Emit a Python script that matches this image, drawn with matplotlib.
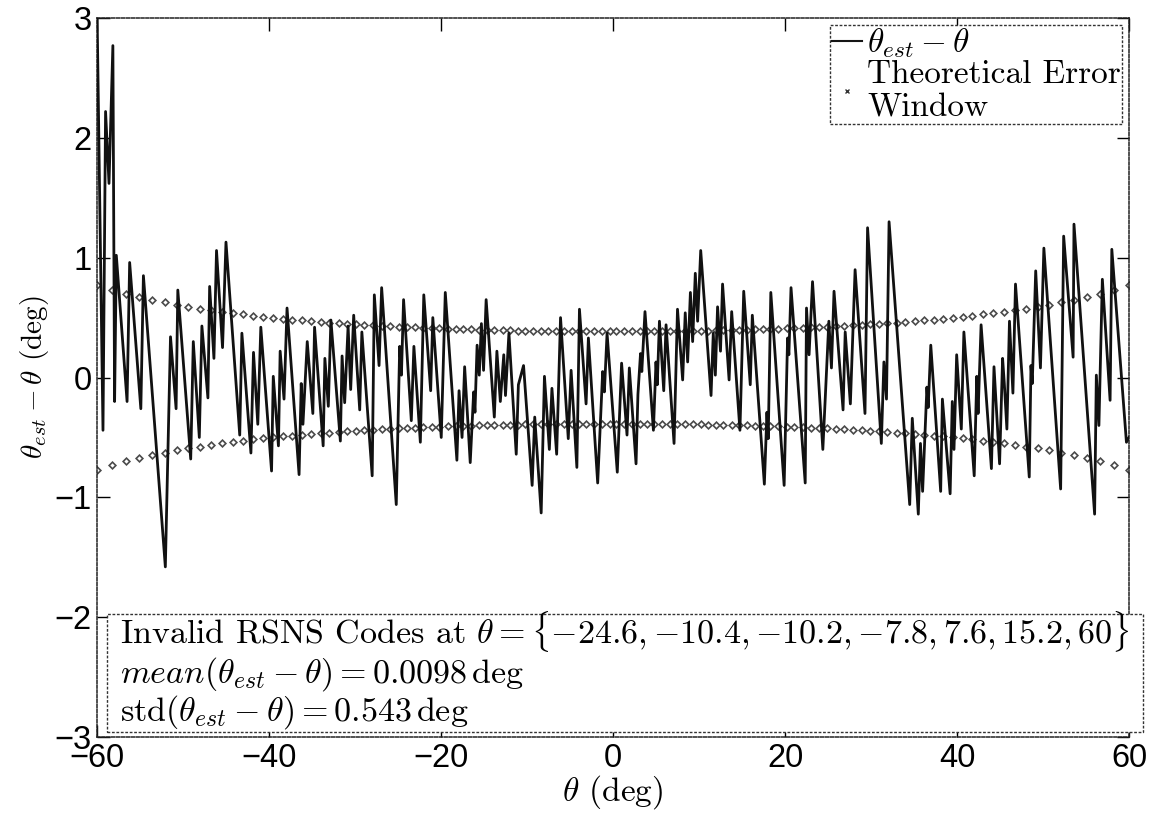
import matplotlib
matplotlib.use("Agg")
import matplotlib.pyplot as plt
from matplotlib.lines import Line2D
from matplotlib.patches import Rectangle

# ---------------- data ----------------
THETA = [
    -60.0, -59.3, -59.0, -58.6, -58.15, -57.95, -57.75, -56.5, -56.2, -54.9,
    -54.6, -52.05, -51.45, -50.8, -50.6, -49.1, -48.8, -48.1, -47.8, -47.1,
    -46.9, -46.4, -46.1, -45.4, -45.0, -43.4, -43.15, -42.1, -41.8, -41.3,
    -40.95, -39.7, -39.5, -38.9, -38.7, -38.25, -37.9, -36.5, -36.25, -36.05,
    -35.55, -34.9, -34.7, -33.7, -33.5, -33.1, -32.8, -31.7, -31.5, -31.2,
    -30.8, -30.5, -30.15, -29.45, -29.2, -28.0, -27.75, -27.2, -26.9, -25.2,
    -24.8, -24.6, -24.35, -23.45, -23.15, -22.4, -22.0, -21.2, -20.95, -19.97,
    -19.5, -18.15, -17.9, -17.55, -17.25, -16.6, -16.2, -16.05, -15.8, -15.55,
    -15.3, -15.05, -14.75, -13.8, -13.5, -13.1, -12.7, -12.5, -12.1, -11.25,
    -11.0, -10.4, -9.4, -9.1, -8.35, -7.97, -7.4, -7.1, -6.55, -6.1,
    -5.2, -4.87, -4.2, -3.9, -3.13, -2.86, -1.78, -1.2, -1.0, -0.69,
    0.5, 1.0, 1.63, 1.9, 2.68, 2.9, 3.2, 3.35, 3.72, 4.7,
    5.0, 5.15, 5.4, 5.9, 6.17, 7.1, 7.5, 8.1, 8.4, 8.68,
    9.0, 9.26, 9.57, 9.84, 10.2, 11.4, 11.66, 11.9, 12.16, 12.5,
    12.74, 13.5, 13.8, 14.76, 15.2, 15.96, 16.2, 17.6, 17.9, 18.05,
    18.35, 19.9, 20.3, 20.45, 20.7, 22.35, 22.5, 22.8, 23.2, 24.4,
    25.1, 25.4, 25.7, 26.75, 27.0, 27.6, 28.15, 29.3, 29.6, 31.2,
    31.5, 31.8, 32.1, 34.5, 34.8, 35.5, 35.75, 36.0, 36.5, 36.65,
    36.95, 38.1, 38.3, 39.2, 39.45, 39.65, 39.96, 40.5, 40.8, 42.0,
    42.3, 42.45, 42.8, 44.0, 44.3, 44.95, 45.3, 45.5, 45.8, 46.1,
    46.5, 46.8, 48.4, 48.6, 48.75, 49.15, 49.7, 50.1, 52.05, 52.4,
    53.5, 53.6, 56.0, 56.2, 56.5, 56.9, 57.8, 58.0, 59.7, 60.0,
]
ERR = [
    3.10, -0.44, 2.22, 1.62, 2.77, -0.20, 1.02, -0.20, 0.96, -0.26,
    0.85, -1.58, 0.34, -0.26, 0.73, -0.68, 0.30, -0.50, 0.43, -0.17,
    0.76, 0.16, 1.06, 0.25, 1.13, -0.48, 0.37, -0.63, 0.21, -0.39,
    0.42, -0.78, 0.01, -0.57, 0.22, -0.18, 0.58, -0.81, -0.05, -0.39,
    0.30, -0.30, 0.42, -0.57, 0.16, -0.24, 0.48, -0.53, 0.18, -0.21,
    0.43, -0.10, 0.52, -0.27, 0.38, -0.82, 0.69, 0.10, 0.75, -1.06,
    0.26, 0.02, 0.65, -0.36, 0.26, -0.54, 0.69, -0.11, 0.50, -0.50,
    0.71, -0.69, -0.11, -0.50, 0.09, -0.71, -0.12, -0.29, 0.27, 0.02,
    0.45, 0.06, 0.65, -0.33, 0.22, -0.20, 0.19, -0.15, 0.37, -0.64,
    -0.06, 0.10, -0.90, -0.33, -1.13, 0.01, -0.60, -0.09, -0.64, 0.50,
    -0.51, 0.06, -0.75, 0.57, -0.22, 0.33, -0.88, 0.05, -0.12, 0.37,
    -0.79, 0.12, -0.48, 0.08, -0.72, -0.14, 0.20, 0.05, 0.55, -0.44,
    0.13, -0.06, 0.47, -0.11, 0.44, -0.55, 0.57, -0.02, 0.54, 0.13,
    0.71, 0.30, 0.87, 0.47, 1.06, -0.15, 0.37, 0.02, 0.59, 0.22,
    0.78, -0.02, 0.55, -0.44, 0.72, -0.06, 0.52, -0.89, -0.29, -0.51,
    0.71, -0.90, 0.33, 0.19, 0.75, -0.88, 0.58, 0.19, 0.80, -0.60,
    0.47, 0.08, 0.72, -0.27, 0.38, -0.22, 0.90, -0.30, 1.25, -0.55,
    0.13, -0.18, 1.30, -1.06, -0.34, -1.14, -0.55, -0.95, -0.08, -0.25,
    0.27, -0.95, -0.18, -0.97, -0.20, -0.60, 0.19, -0.43, 0.38, -0.82,
    0.01, -0.30, 0.44, -0.76, 0.09, -0.72, 0.16, -0.05, -0.43, 0.47,
    -0.13, 0.78, -0.83, 0.10, -0.05, 0.89, 0.08, 1.08, -0.93, 1.18,
    0.17, 1.28, -1.14, 0.02, -0.40, 0.82, -0.19, 1.07, -0.54, -0.50,
]

WIN_THETA = [
    -60.0, -58.3, -56.6, -55.1, -53.6, -52.1, -50.7, -49.4, -48.0, -46.7,
    -45.5, -44.2, -43.0, -41.8, -40.7, -39.5, -38.4, -37.3, -36.2, -35.1,
    -34.0, -33.0, -31.9, -30.9, -29.9, -28.9, -27.9, -26.9, -25.9, -24.9,
    -24.0, -23.0, -22.1, -21.1, -20.2, -19.2, -18.3, -17.4, -16.5, -15.6,
    -14.7, -13.8, -12.8, -12.0, -11.1, -10.2, -9.3, -8.4, -7.5, -6.6,
    -5.7, -4.8, -4.0, -3.1, -2.2, -1.3, -0.4,
    0.4, 1.3, 2.2, 3.1, 4.0, 4.8, 5.7, 6.6, 7.5, 8.4,
    9.3, 10.2, 11.1, 12.0, 12.8, 13.8, 14.7, 15.6, 16.5, 17.4,
    18.3, 19.2, 20.2, 21.1, 22.1, 23.0, 24.0, 24.9, 25.9, 26.9,
    27.9, 28.9, 29.9, 30.9, 31.9, 33.0, 34.0, 35.1, 36.2, 37.3,
    38.4, 39.5, 40.7, 41.8, 43.0, 44.2, 45.5, 46.7, 48.0, 49.4,
    50.7, 52.1, 53.6, 55.1, 56.6, 58.3, 60.0,
]
WIN_UPPER = [
    0.770, 0.733, 0.700, 0.673, 0.648, 0.627, 0.608, 0.591, 0.576, 0.562,
    0.549, 0.537, 0.527, 0.517, 0.507, 0.499, 0.491, 0.484, 0.477, 0.470,
    0.465, 0.459, 0.454, 0.449, 0.444, 0.440, 0.436, 0.432, 0.428, 0.425,
    0.421, 0.418, 0.415, 0.413, 0.410, 0.408, 0.406, 0.403, 0.402, 0.400,
    0.398, 0.396, 0.395, 0.394, 0.392, 0.391, 0.390, 0.389, 0.388, 0.388,
    0.387, 0.386, 0.386, 0.386, 0.385, 0.385, 0.385,
    0.385, 0.385, 0.385, 0.386, 0.386, 0.386, 0.387, 0.388, 0.388, 0.389,
    0.390, 0.391, 0.392, 0.394, 0.395, 0.396, 0.398, 0.400, 0.402, 0.403,
    0.406, 0.408, 0.410, 0.413, 0.415, 0.418, 0.421, 0.425, 0.428, 0.432,
    0.436, 0.440, 0.444, 0.449, 0.454, 0.459, 0.465, 0.470, 0.477, 0.484,
    0.491, 0.499, 0.507, 0.517, 0.527, 0.537, 0.549, 0.562, 0.576, 0.591,
    0.608, 0.627, 0.648, 0.673, 0.700, 0.733, 0.770,
]
WIN_LOWER = [-v for v in WIN_UPPER]

X_TICKS = [-60, -40, -20, 0, 20, 40, 60]
Y_TICKS = [-3, -2, -1, 0, 1, 2, 3]

INVALID = ["-24.6", "-10.4", "-10.2", "-7.8", "7.6", "15.2", "60"]
MEAN_TXT = "0.0098"
STD_TXT = "0.543"

# ---------------- style ----------------
plt.rcParams["mathtext.fontset"] = "cm"
plt.rcParams["axes.unicode_minus"] = True
SERIF = "cmr10"
DASH = (0, (2.0, 1.2))

fig = plt.figure(figsize=(11.53, 8.17), dpi=100)
ax = fig.add_axes([0.0841, 0.0979, 0.8951, 0.880])

ax.plot(THETA, ERR, color="#111111", lw=2.0, zorder=3)
mk = dict(ls="none", marker="D", ms=3.4, mfc="white", mec="#4a4a4a", mew=1.2, zorder=2)
ax.plot(WIN_THETA, WIN_UPPER, **mk)
ax.plot(WIN_THETA, WIN_LOWER, **mk)

ax.set_xlim(-60, 60)
ax.set_ylim(-3, 3)
ax.set_xticks(X_TICKS)
ax.set_yticks(Y_TICKS)
ax.tick_params(direction="in", length=9, width=1.0, top=True, right=True,
               labelsize=23.5, pad=4)
for lab in ax.get_xticklabels() + ax.get_yticklabels():
    lab.set_fontfamily("Liberation Sans")
for sp in ax.spines.values():
    sp.set_linestyle(DASH)
    sp.set_linewidth(1.1)
    sp.set_color("#222222")

ax.set_xlabel(r"$\theta$ (deg)", fontfamily=SERIF, fontsize=24, labelpad=0)
ax.set_ylabel(r"$\theta_{est} - \theta$ (deg)", fontfamily=SERIF, fontsize=21, labelpad=2)

handles = [
    Line2D([], [], color="#151515", lw=1.5),
    Line2D([], [], ls="none", marker="x", ms=3, mec="#333333", mew=1.0),
]
labels = [r"$\theta_{est} - \theta$", "Theoretical Error\nWindow"]
leg = ax.legend(handles, labels, loc="upper right", prop={"family": SERIF, "size": 24},
                handlelength=0.9, handletextpad=0.15, borderpad=0.05,
                borderaxespad=0.2, labelspacing=0.0, fancybox=False, framealpha=1)
leg.get_frame().set_edgecolor("#333333")
leg.get_frame().set_linestyle(DASH)
leg.get_frame().set_linewidth(1.0)

# statistics box
box = Rectangle((0.0097, 0.007), 1.0039, 0.164, transform=ax.transAxes,
                fc="white", ec="#333333", ls=DASH, lw=1.0, zorder=4, clip_on=False)
ax.add_patch(box)
inv = ", ".join("{" + v + "}" for v in INVALID)
lines = [
    "Invalid RSNS Codes at $\\theta = \\{" + inv + "\\}$",
    "$mean(\\theta_{est} - \\theta) = " + MEAN_TXT + "\\,\\mathrm{deg}$",
    "$\\mathrm{std}(\\theta_{est} - \\theta) = " + STD_TXT + "\\,\\mathrm{deg}$",
]
for txt, yb in zip(lines, [0.130, 0.076, 0.023]):
    ax.text(0.0223, yb, txt, transform=ax.transAxes, ha="left", va="baseline",
            fontfamily=SERIF, fontsize=24.5, zorder=5, clip_on=False)

fig.savefig("out.png", dpi=100)
